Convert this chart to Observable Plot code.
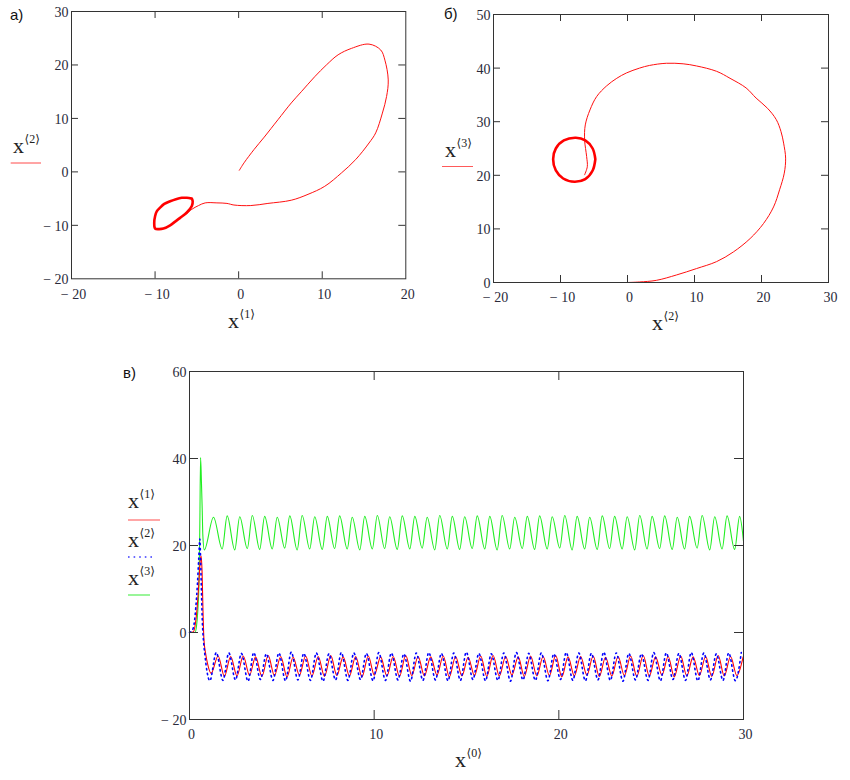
<!DOCTYPE html>
<html><head><meta charset="utf-8">
<script src="https://cdn.jsdelivr.net/npm/d3@7"></script>
<script src="https://cdn.jsdelivr.net/npm/@observablehq/plot@0.6"></script>
<style>
body{margin:0;background:#fff;}
#root{position:relative;width:850px;height:780px;overflow:hidden;background:#fff;}
#root svg text{font-family:"Liberation Serif","Times New Roman","DejaVu Serif",serif;}
#root svg text.sans{font-family:"Liberation Sans",Arial,sans-serif;}
</style></head><body><div id="root"></div>
<script>
// ---------- Panel а): x<1> vs x<2> ----------
const aX1 = [0.08,0.65,1.85,3.06,4.7,6.3,7.5,9.1,10.5,11.9,13.5,15.6,17.0,17.5,17.9,17.7,17.2,16.4,15.6,14.0,12.3,10.3,8.3,6.3,3.5,1.45,-0.56,-1.4,-2.6,-4.0,-4.8,-5.6,-6.2];
const aX2 = [0.3,1.7,4.2,6.5,9.75,12.9,15.0,17.8,20.0,21.9,23.1,23.9,22.8,20.9,17.2,14.1,11.0,7.3,5.4,2.3,-0.2,-2.7,-4.2,-5.3,-5.9,-6.3,-6.2,-5.9,-5.8,-5.8,-6.3,-7.0,-7.8];
const aLoopX1 = [-5.6,-6.2,-6.8,-7.5,-8.2,-8.9,-9.4,-9.8,-10.0,-10.1,-10.0,-9.5,-9.0,-8.2,-7.6,-7.0,-6.2,-5.6,-5.5,-5.6];
const aLoopX2 = [-5.0,-4.85,-4.85,-5.1,-5.5,-6.0,-6.7,-7.4,-8.3,-9.5,-10.6,-10.7,-10.6,-10.0,-9.3,-8.6,-7.6,-6.4,-5.5,-5.0];
const aXTickLabels = [-20,-10,0,10,20];
const aYTickLabels = [-20,-10,0,10,20,30];

// ---------- Panel б): x<2> vs x<3> ----------
const bX2 = [0,1.8,4.3,7.3,10.3,13.3,15.8,18.3,20.3,21.8,22.7,23.4,23.6,23.3,22.9,22.2,20.9,19.2,17.7,15.3,13.3,10.3,8.3,5.8,3.3,1.8,-0.15,-1.6,-3.1,-4.6,-5.6,-6.3,-6.4,-6.1,-6.0,-6.4];
const bX3 = [0,0.1,0.4,1.4,2.6,3.9,5.7,8.2,11.0,14.1,17.3,20.4,23.2,26.0,28.2,30.4,32.5,34.4,36.3,38.1,39.4,40.4,40.8,40.9,40.5,40.0,39.1,38.1,36.7,34.7,32.2,29.4,26.6,23.5,21.6,20.1];
const bLoopX2 = [-4.8,-5.2,-6.3,-7.7,-9.5,-10.7,-11.1,-10.7,-9.6,-7.9,-6.3,-5.2,-4.8];
const bLoopX3 = [23.0,25.0,26.5,27.0,26.5,25.0,23.0,20.9,19.4,18.8,19.3,20.9,23.0];
const bXTickLabels = [-20,-10,0,10,20,30];
const bYTickLabels = [0,10,20,30,40,50];

// ---------- Panel в): x<1>, x<2>, x<3> vs x<0> ----------
const x1TransT = [0,0.2,0.3,0.4,0.5,0.58,0.63,0.68,0.73,0.78,0.88,0.98];
const x1TransV = [0,0.1,1.5,5,11,16.5,17.6,14,5,-1.5,-5,-7.2];
const x1PeakT = [1.55,2.23,2.91,3.58,4.26,4.94,5.61,6.29,6.97,7.65,8.32,9.00,9.68,10.35,11.03,11.71,12.38,13.06,13.74,14.41,15.09,15.77,16.44,17.12,17.80,18.47,19.15,19.83,20.50,21.18,21.86,22.53,23.21,23.89,24.57,25.24,25.92,26.60,27.27,27.95,28.63,29.30,29.98];
const x1PeakV = [-5.4,-5.5,-5.4,-5.6,-5.3,-5.5,-5.7,-5.4,-5.5,-5.3,-5.6,-5.5,-5.4,-5.6,-5.5,-5.3,-5.5,-5.6,-5.4,-5.5,-5.7,-5.4,-5.3,-5.5,-5.6,-5.4,-5.5,-5.3,-5.6,-5.5,-5.4,-5.7,-5.5,-5.4,-5.3,-5.6,-5.5,-5.4,-5.6,-5.5,-5.3,-5.5,-5.6];
const x1TroughT = [1.17,1.89,2.57,3.25,3.92,4.60,5.28,5.95,6.63,7.31,7.98,8.66,9.34,10.01,10.69,11.37,12.04,12.72,13.40,14.07,14.75,15.43,16.10,16.78,17.46,18.13,18.81,19.49,20.16,20.84,21.52,22.19,22.87,23.55,24.22,24.90,25.58,26.25,26.93,27.61,28.28,28.96,29.64];
const x1TroughV = [-9.4,-10.1,-10.0,-9.8,-10.1,-9.9,-10.2,-9.8,-10.0,-10.1,-9.9,-10.0,-10.2,-9.8,-10.0,-10.1,-9.9,-10.0,-9.8,-10.2,-10.0,-9.9,-10.1,-10.0,-9.8,-10.1,-10.0,-9.9,-10.2,-10.0,-9.8,-10.1,-10.0,-9.9,-10.1,-10.0,-9.8,-10.2,-10.0,-9.9,-10.1,-10.0,-9.9];

const x2TransT = [0,0.15,0.25,0.34,0.43,0.5,0.56,0.6,0.65,0.7,0.75,0.83,0.95];
const x2TransV = [0,0.5,2,5.7,11.2,17,21.5,17,9,2,-1.5,-5,-9];
const x2PeakT = [1.45,2.13,2.81,3.48,4.16,4.84,5.51,6.19,6.87,7.55,8.22,8.90,9.58,10.25,10.93,11.61,12.28,12.96,13.64,14.31,14.99,15.67,16.34,17.02,17.70,18.37,19.05,19.73,20.40,21.08,21.76,22.43,23.11,23.79,24.47,25.14,25.82,26.50,27.17,27.85,28.53,29.20,29.88];
const x2PeakV = [-4.6,-4.7,-4.8,-4.6,-4.9,-4.7,-4.5,-4.8,-4.7,-4.9,-4.6,-4.7,-4.8,-4.6,-4.7,-4.9,-4.7,-4.6,-4.8,-4.7,-4.5,-4.8,-4.9,-4.7,-4.6,-4.8,-4.7,-4.9,-4.6,-4.7,-4.8,-4.5,-4.7,-4.8,-4.9,-4.6,-4.7,-4.8,-4.6,-4.7,-4.9,-4.7,-4.6];
const x2TroughT = [1.1,1.81,2.49,3.17,3.84,4.52,5.20,5.87,6.55,7.23,7.91,8.58,9.26,9.94,10.61,11.29,11.97,12.64,13.32,14.00,14.67,15.35,16.03,16.70,17.38,18.06,18.73,19.41,20.09,20.76,21.44,22.12,22.79,23.47,24.15,24.83,25.50,26.18,26.86,27.53,28.21,28.89,29.56];
const x2TroughV = [-11.1,-11.0,-10.9,-11.2,-10.8,-11.0,-11.1,-10.9,-11.0,-11.2,-10.9,-11.0,-10.8,-11.1,-11.0,-10.9,-11.2,-11.0,-10.9,-11.1,-11.0,-10.8,-11.1,-11.0,-11.2,-10.9,-11.0,-11.1,-10.8,-11.0,-11.1,-10.9,-11.0,-11.2,-10.9,-11.0,-11.1,-10.8,-11.0,-11.1,-10.9,-11.0,-11.1];

const x3TransT = [0,0.3,0.38,0.45,0.52,0.56,0.6,0.65,0.69,0.72,0.8];
const x3TransV = [0,0,1.5,5,12.6,25,40.2,34,28,22.6,19];
const x3PeakT = [1.30,2.04,2.72,3.40,4.07,4.75,5.43,6.10,6.78,7.46,8.13,8.81,9.49,10.17,10.84,11.52,12.20,12.87,13.55,14.23,14.90,15.58,16.26,16.93,17.61,18.29,18.96,19.64,20.32,20.99,21.67,22.35,23.02,23.70,24.38,25.05,25.73,26.41,27.08,27.76,28.44,29.11,29.79];
const x3PeakV = [26.5,26.8,26.6,26.9,26.7,26.5,26.8,26.9,26.6,26.7,26.8,26.5,26.7,26.9,26.6,26.8,26.7,26.5,26.9,26.7,26.6,26.8,26.7,26.9,26.5,26.7,26.8,26.6,26.9,26.7,26.5,26.8,26.7,26.6,26.9,26.7,26.8,26.5,26.7,26.9,26.6,26.8,26.7];
const x3TroughT = [1.77,2.45,3.13,3.80,4.48,5.16,5.83,6.51,7.19,7.86,8.54,9.22,9.90,10.57,11.25,11.93,12.60,13.28,13.96,14.63,15.31,15.99,16.66,17.34,18.02,18.69,19.37,20.05,20.72,21.40,22.08,22.75,23.43,24.11,24.78,25.46,26.14,26.81,27.49,28.17,28.84,29.52,30.00];
const x3TroughV = [19.2,19.0,19.3,19.1,19.2,19.4,19.0,19.2,19.1,19.3,19.2,19.0,19.2,19.3,19.1,19.2,19.4,19.0,19.2,19.1,19.3,19.2,19.0,19.2,19.3,19.1,19.2,19.4,19.0,19.2,19.1,19.3,19.2,19.0,19.2,19.3,19.1,19.2,19.4,19.0,19.2,19.1,21.0];
const cXTickLabels = [0,10,20,30];
const cYTickLabels = [-20,0,20,40,60];

// ---------- helpers ----------
const root = document.getElementById("root");
const SERIF = "Liberation Serif, Times New Roman, DejaVu Serif, serif";
const fmt = d => d < 0 ? "\u2212 " + Math.abs(d) : String(d);
function merge(...pairs) {
  const rows = [];
  for (const [T, V] of pairs) T.forEach((t, i) => rows.push({t, v: V[i]}));
  return rows.sort((a, b) => a.t - b.t);
}
function panel({left, top, fw, fh, xDomain, yDomain, xTicks, yTicks, xLabels, yLabels, tick, marks}) {
  const mL = 45, mR = 20, mT = 12, mB = 30;
  const svg = Plot.plot({
    width: fw + mL + mR, height: fh + mT + mB,
    marginLeft: mL, marginRight: mR, marginTop: mT, marginBottom: mB,
    x: {domain: xDomain}, y: {domain: yDomain},
    style: {fontFamily: SERIF, fontSize: "14px", color: "#2a2a3a", background: "transparent", overflow: "visible"},
    marks: [
      ...marks,
      Plot.frame({stroke: "#333"}),
      Plot.tickX(xTicks, {x: d => d, insetTop: fh - tick, stroke: "#333"}),
      Plot.tickX(xTicks, {x: d => d, insetBottom: fh - tick, stroke: "#333"}),
      Plot.tickY(yTicks, {y: d => d, insetRight: fw - tick, stroke: "#333"}),
      Plot.tickY(yTicks, {y: d => d, insetLeft: fw - tick, stroke: "#333"}),
      Plot.axisX(xLabels, {tickSize: 0, tickPadding: 10, tickFormat: fmt, label: null, fontSize: 14, fontFamily: SERIF, dx: 2}),
      Plot.axisY(yLabels, {tickSize: 0, tickPadding: 3, tickFormat: fmt, label: null, fontSize: 14, fontFamily: SERIF, dy: 1})
    ]
  });
  svg.style.position = "absolute";
  svg.style.left = (left - mL) + "px";
  svg.style.top = (top - mT) + "px";
  svg.style.maxWidth = "none";
  root.appendChild(svg);
}

// ---------- panel а ----------
panel({
  left: 70.7, top: 10.7, fw: 334.3, fh: 267.3,
  xDomain: [-20, 20], yDomain: [-20, 30],
  xTicks: [-10, 0, 10], yTicks: [-10, 0, 10, 20],
  xLabels: aXTickLabels, yLabels: aYTickLabels, tick: 7,
  marks: [
    Plot.line({length: aX1.length}, {x: aX1, y: aX2, stroke: "#ff1010", strokeWidth: 1, curve: "catmull-rom"}),
    Plot.line({length: aLoopX1.length}, {x: aLoopX1, y: aLoopX2, stroke: "#ff0000", strokeWidth: 2.6, curve: "catmull-rom"})
  ]
});

// ---------- panel б ----------
panel({
  left: 493.3, top: 14, fw: 335, fh: 268,
  xDomain: [-20, 30], yDomain: [0, 50],
  xTicks: [-10, 0, 10, 20], yTicks: [10, 20, 30, 40],
  xLabels: bXTickLabels, yLabels: bYTickLabels, tick: 7,
  marks: [
    Plot.line({length: bX2.length}, {x: bX2, y: bX3, stroke: "#ff1010", strokeWidth: 1, curve: "catmull-rom"}),
    Plot.line({length: bLoopX2.length}, {x: bLoopX2, y: bLoopX3, stroke: "#ff0000", strokeWidth: 2.6, curve: "catmull-rom"})
  ]
});

// ---------- panel в ----------
const s1 = merge([x1TransT, x1TransV], [x1PeakT, x1PeakV], [x1TroughT, x1TroughV]);
const s2 = merge([x2TransT, x2TransV], [x2PeakT, x2PeakV], [x2TroughT, x2TroughV]);
const s3 = merge([x3TransT, x3TransV], [x3PeakT, x3PeakV], [x3TroughT, x3TroughV]);
panel({
  left: 189, top: 371, fw: 554, fh: 348,
  xDomain: [0, 30], yDomain: [-20, 60],
  xTicks: [10, 20], yTicks: [0, 20, 40],
  xLabels: cXTickLabels, yLabels: cYTickLabels, tick: 9,
  marks: [
    Plot.line(s3, {x: "t", y: "v", stroke: "#22ee22", strokeWidth: 1.1, curve: "monotone-x"}),
    Plot.line(s1, {x: "t", y: "v", stroke: "#ff0000", strokeWidth: 1.1, curve: "monotone-x"}),
    Plot.line(s2, {x: "t", y: "v", stroke: "#0000ff", strokeWidth: 1.6, strokeDasharray: "1.4,3.6", curve: "monotone-x"})
  ]
});

// ---------- labels overlay ----------
const ov = d3.create("svg").attr("width", 850).attr("height", 780)
  .style("position", "absolute").style("left", "0px").style("top", "0px").style("pointer-events", "none");
function xlab(x, base, sup) {
  const t = ov.append("text").attr("x", x).attr("y", base).attr("font-size", 22).attr("fill", "#222");
  t.append("tspan").text("x");
  t.append("tspan").attr("font-size", 12).attr("dy", -10).attr("dx", 0.5).text("\u27E8" + sup + "\u27E9");
}
function panelTitle(x, base, s) {
  ov.append("text").attr("class", "sans").attr("x", x).attr("y", base)
    .attr("font-size", 15).attr("fill", "#111").text(s);
}
panelTitle(10, 20, "а)");
panelTitle(444, 19, "б)");
panelTitle(123, 378, "в)");
// panel а labels
xlab(13, 153, "2");
ov.append("line").attr("x1", 10.7).attr("x2", 41).attr("y1", 163).attr("y2", 163).attr("stroke", "#ff4a4a").attr("stroke-width", 1);
xlab(228, 328, "1");
// panel б labels
xlab(445, 157, "3");
ov.append("line").attr("x1", 442).attr("x2", 473).attr("y1", 166.5).attr("y2", 166.5).attr("stroke", "#ff5a5a").attr("stroke-width", 1);
xlab(652, 330, "2");
// panel в labels
xlab(455, 767, "0");
xlab(128, 508, "1");
ov.append("line").attr("x1", 128).attr("x2", 160).attr("y1", 520).attr("y2", 520).attr("stroke", "#ff6a6a").attr("stroke-width", 1.2);
xlab(128, 547, "2");
ov.append("line").attr("x1", 128).attr("x2", 156).attr("y1", 557).attr("y2", 557).attr("stroke", "#3a3aff").attr("stroke-width", 1.6).attr("stroke-dasharray", "1.6,4");
xlab(128, 585, "3");
ov.append("line").attr("x1", 128).attr("x2", 150).attr("y1", 595).attr("y2", 595).attr("stroke", "#55ee55").attr("stroke-width", 1.2);
root.appendChild(ov.node());
</script>
</body></html>
